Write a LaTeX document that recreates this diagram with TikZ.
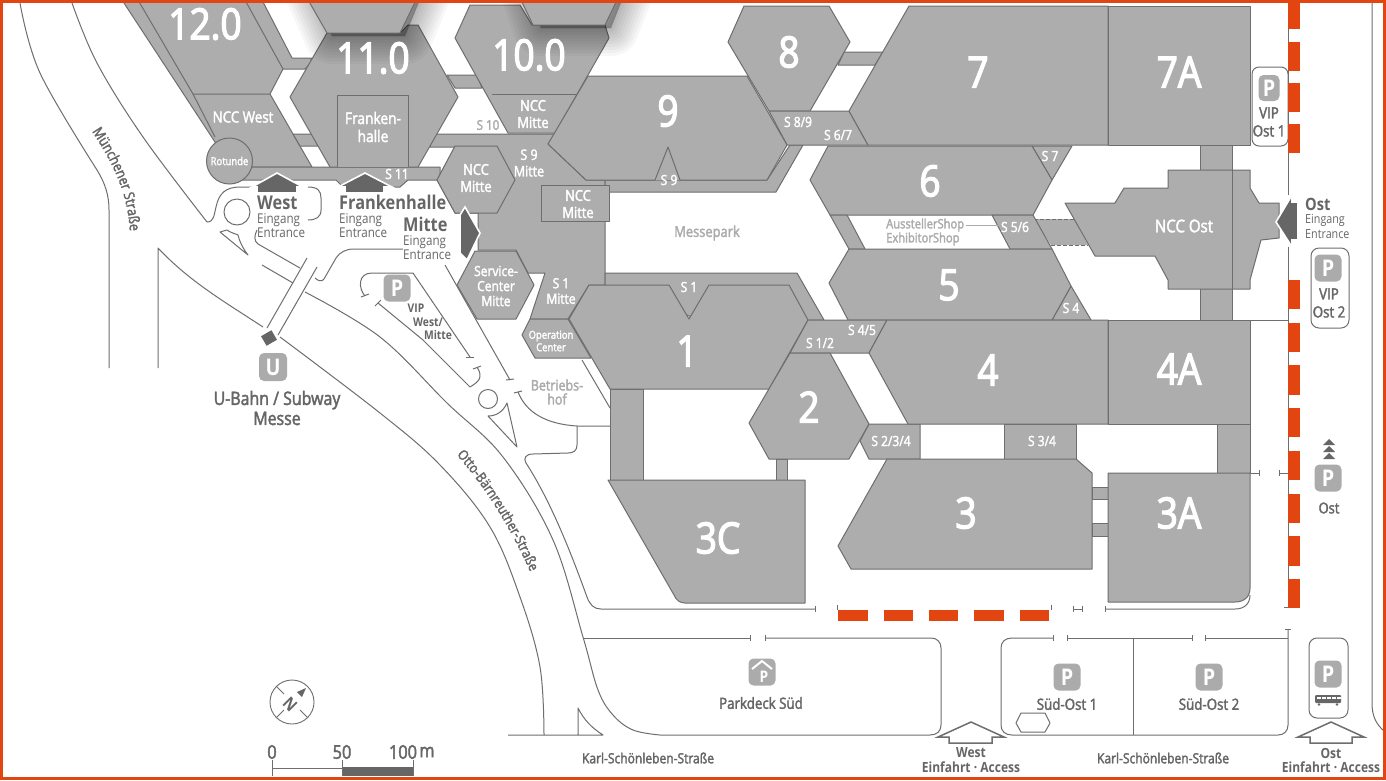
\documentclass[tikz,border=0pt]{standalone}
\usepackage{fontspec}
\setmainfont[FakeStretch=0.86]{Open Sans}
\newfontfamily\hf[FakeStretch=0.86,FakeBold=3]{Open Sans}
\newfontfamily\mf[FakeStretch=0.86,FakeBold=2.2]{Open Sans}
\usetikzlibrary{decorations.text}
\definecolor{hallgray}{HTML}{ADADAD}
\definecolor{edge}{HTML}{6E6E6E}
\definecolor{txt}{HTML}{666666}
\definecolor{lt}{HTML}{ABABAB}
\definecolor{rd}{HTML}{E2450F}
\definecolor{dk}{HTML}{666666}
\tikzset{
 hall/.style={fill=hallgray,draw=edge,line width=1,line join=round},
 road/.style={draw=edge,line width=1,line join=round},
 reddash/.style={fill=rd,draw=none},
 wt/.style n args={2}{text=white,inner sep=0,align=center,font=\mf\fontsize{#1}{#2}\selectfont},
 gt/.style n args={2}{text=txt,inner sep=0,align=center,font=\fontsize{#1}{#2}\selectfont},
 gb/.style n args={2}{text=txt,inner sep=0,align=center,font=\bfseries\fontsize{#1}{#2}\selectfont},
 gm/.style n args={2}{text=txt,inner sep=0,align=center,font=\mf\fontsize{#1}{#2}\selectfont},
 lg/.style n args={2}{text=lt,inner sep=0,align=center,font=\mf\fontsize{#1}{#2}\selectfont},
 big/.style={text=white,inner sep=0,align=center,font=\hf\fontsize{43}{46}\selectfont},
 sl/.style={wt={14}{15.5}},
 picon/.style={fill=lt,rounded corners=5,minimum width=27,minimum height=27,inner sep=0,text=white,font=\bfseries\fontsize{23}{23}\selectfont},
 darrow/.style={fill=dk,draw=white,line width=1.6,line join=miter},
 oarrow/.style={fill=white,draw=edge,line width=1.5,line join=miter},
}
\begin{document}
\begin{tikzpicture}[x=1pt,y=-1pt]
\useasboundingbox (0,0) rectangle (1386,780);
\fill[white] (0,0) rectangle (1386,780);

% ---------- roads
\draw[road] plot[smooth,tension=.6] coordinates {(20,3)(40,73)(97,170)} .. controls (105,183) and (109,195) .. (109,210) -- (109,368);
\draw[road] plot[smooth,tension=.6] coordinates {(72,3)(97,63)(143,137)(207,222)} .. controls (214,222) and (214,215) .. (216,207) .. controls (219,193) and (226,187) .. (240,187) -- (252,187);
\draw[road] (308,187) .. controls (318,187) and (321,191) .. (321,198) -- (321,210) .. controls (321,217) and (316,220) .. (308,220);
\draw[road] (237,212) circle (13);
\draw[road] (220,232) -- (227,230) .. controls (233,234) and (237,234) .. (238,235) .. controls (240,243) and (244,250) .. (248,255) -- cycle;
\draw[road] (257,230) .. controls (254,236) and (254,241) .. (258,244) -- (300,268);
\draw[road] (262,265) -- (293,283);
\draw[road] (158,368) -- (158,248) .. controls (190,282) and (225,302) .. (263,327);
\draw[road] plot[smooth,tension=.6] coordinates {(280,337)(380,413)(440,465)(490,527)(520,597)(540,667)(544,735)};
\draw[road] plot[smooth,tension=.6] coordinates {(305,292)(380,337)(447,403)(503,457)(553,540)(583,637)(598,690)(613,715)(633,730)(660,735)} -- (930,735) .. controls (937,735) and (941,731) .. (941,725) -- (941,648) .. controls (941,642) and (937,638) .. (931,638) -- (765,638);
\draw[road] (750,638) -- (583,638);
\draw[road] (508,735) -- (603,735) .. controls (592,728) and (584,720) .. (578,708) -- (578,735);
% U-Bahn stair
\draw[road] (307,258) -- (267,328);
\draw[road] (317,267) -- (278,335);
\node[fill=dk,minimum width=12,minimum height=11,inner sep=0,rotate=30] (ubahnbox) at (269,338) {};
% curb to Mitte
\draw[road] (315,278) .. controls (318,281) and (322,282) .. (324,279) -- (336,258) .. controls (340,252) and (346,249) .. (354,249) -- (403,249);
% VIP road
\draw[road] (365,296) .. controls (358,288) and (358,273) .. (372,273) -- (413,273) -- (470,357);
\draw[road] (361,297) -- (369,294);
\draw[road] (466,357) -- (474,357);
\draw[road] (378,303) -- (423,340) -- (470,387) .. controls (478,382) and (484,378) .. (477,367);
\draw[road] (375,306) -- (381,300);
\draw[road] (473,369) -- (481,366);
\draw[road] (488,399) circle (9.5);
\draw[road] (488,416) .. controls (496,416) and (503,412) .. (507,403) -- (517,447) -- cycle;
% road from service center
\draw[road] (445,265) -- (510,380);
\draw[road] (506,380) -- (514,379);
\draw[road] (518,392) .. controls (526,412) and (545,424) .. (577,426) -- (610,426);
\draw[road] (514,393) -- (522,391);
\draw[road] (577,426) -- (577,445) .. controls (577,451) and (573,453) .. (568,453) -- (533,454) .. controls (526,454) and (523,458) .. (526,463) .. controls (550,500) and (570,550) .. (587,597) .. controls (590,605) and (594,609) .. (601,609) -- (815,609);
\draw[road] (815,606) -- (815,612);
\draw[road] (582,360) -- (610,408);
% outer service road
\draw[road] (1105,609) -- (1235,609) .. controls (1244,609) and (1250,604) .. (1250,595);
\draw[road] (1105,606) -- (1105,612);
\draw[road] (1073,606) -- (1073,612) (1073,609) -- (1082,609) (1082,606) -- (1082,612);
\draw[road] (837,605) -- (837,610) (1051,605) -- (1051,610);
% right side lines
\draw[road] (1288,0) -- (1288,195) (1288,247) -- (1288,607);
\draw[road] (1372,0) -- (1372,703) .. controls (1372,716) and (1376,724) .. (1384,731);
\draw[road] (1250,320) -- (1288,320);
\draw[road] (1250,473) -- (1259,473) (1259,470) -- (1259,476);
\draw[road] (1279,473) -- (1288,473) (1279,470) -- (1279,476);
\draw[road] (1284,607) -- (1288,607);
% parking south-east
\draw[road] (1053,638) -- (1012,638) .. controls (1005,638) and (1001,642) .. (1001,648) -- (1001,725) .. controls (1001,731) and (1005,735) .. (1012,735) -- (1278,735) .. controls (1284,735) and (1288,731) .. (1288,725) -- (1288,629);
\draw[road] (1285,629) -- (1291,629);
\draw[road] (1067,638) -- (1192,638) (1205,638) -- (1288,638);
\draw[road] (1133,638) -- (1133,735);
\foreach \t in {1053,1067,1192,1205,750,765} \draw[road] (\t,635) -- (\t,641);
\draw[road] (1016,723) -- (1021,713) -- (1045,713) -- (1050,723) -- (1045,732) -- (1021,732) -- cycle;
% VIP boxes
\draw[road,rounded corners=7] (1252,67) rectangle (1288,146);
\draw[road,rounded corners=8] (1311,248) rectangle (1349,328);
\draw[road,rounded corners=8] (1309,638) rectangle (1348,718);

% ---------- red dashes
\foreach \a/\b in {0/29,42/71,83/112,124/153,280/309,323/352,365/395,408/437,451/480,494/523,536/566,579/608}
  \fill[reddash] (1288,\a) rectangle (1300,\b);
\foreach \a/\b in {838/868,884/913,929/958,974/1004,1020/1049}
  \fill[reddash] (\a,610) rectangle (\b,621);

% ---------- halls
% 12 + NCC West band
\draw[hall] (122,0) -- (215,142) -- (215,167) -- (312,167) -- (270,94) -- (283,69) -- (305,69) -- (312,58) -- (292,58) -- (262,0) -- cycle;
\draw[hall] (138,0) -- (193,94) -- (270,94);
\draw[hall] (245,0) -- (283,69);
\draw[hall] (193,94) -- (215,137);
% connector 12 - 11
\path[fill=hallgray] (293,60) -- (312,60) -- (305,68) -- (287,68) -- cycle;
% connector NCC West - 11
\draw[hall] (293,134) -- (312,134) -- (318,146) -- (300,146) -- cycle;
% S 11 band
\draw[hall] (220,167) -- (440,167) -- (440,180) -- (408,180) -- (400,187) -- (343,187) -- (336,180) -- (240,180) -- cycle;
% Central Mitte area
\draw[hall] (432,134) -- (555,134) -- (548,144) -- (586,180) -- (605,180) -- (605,285) -- (589,285) -- (568,319) -- (530,319) -- (545,273) -- (528,273) -- (516,250) -- (478,250) -- (478,213) -- (455,213) -- (437,180) -- (455,147) -- (430,147) -- cycle;
% S 9 band, with the notch of hall 9
\fill[hallgray] (650,185) -- (668,145) -- (686,185) -- cycle;
\draw[hall] (605,180) -- (767,180) -- (790,145) -- (803,145) -- (776,192) -- (605,192) -- cycle;
% connector 11-10
\draw[hall] (447,75) -- (477,75) -- (482,88) -- (455,88) -- cycle;
% 11.0
\draw[hall] (290,97) -- (327,33) -- (400,33) -- (408,25) -- (418,25) -- (458,97) -- (418,167) -- (330,167) -- cycle;
\draw[hall] (337,167) -- (337,95) -- (408,95) -- (408,167);
% 10.0
\draw[hall] (455,38) -- (470,5) -- (520,5) -- (532,25) -- (605,25) -- (609,38) -- (555,133) -- (508,133) -- cycle;
\draw[hall] (492,94) -- (577,94);
% connector 8-7
\draw[hall] (844,52) -- (883,52) -- (875,65) -- (838,65) -- cycle;
% 8
\draw[hall] (728,42) -- (744,6) -- (829,6) -- (850,42) -- (810,111) -- (769,111) -- cycle;
% S 8/9
\draw[hall] (769,111) -- (849,111) -- (868,145) -- (787,145) -- cycle;
% 9
\fill[hallgray] (655,180) -- (668,147) -- (680,180) -- cycle;
\draw[hall] (548,144) -- (588,76) -- (747,76) -- (787,145) -- (767,180) -- (680,180) -- (668,147) -- (655,180) -- (586,180) -- cycle;
% 7, 7A
\draw[hall] (909,6) -- (1108,6) -- (1108,145) -- (868,145) -- (849,111) -- cycle;
\draw[hall] (1108,6) rectangle (1250,145);
% 7/4 link
\draw[hall] (1200,145) rectangle (1232,320);
% S5/6 link
\fill[hallgray] (1034,219) -- (1074,219) -- (1088,245) -- (1051,245) -- cycle;
\draw[edge,line width=1,dash pattern=on 4pt off 2pt] (1034,219) -- (1074,219);
\draw[edge,line width=1,dash pattern=on 4pt off 2pt] (1051,245) -- (1088,245);
% NCC Ost
\draw[hall] (1065,203) -- (1115,203) -- (1124,188) -- (1168,188) -- (1168,170) -- (1250,170) -- (1250,188) -- (1259,203) -- (1279,203) -- (1279,238) -- (1261,240) -- (1250,280) -- (1250,289) -- (1168,289) -- (1168,280) -- (1155,256) -- (1095,256) -- cycle;
\draw[edge,line width=1] (1232,170) -- (1232,289);
% 6
\draw[hall] (1032,146) -- (1072,146) -- (1052,180) -- cycle;
\draw[hall] (810,180) -- (828,146) -- (1032,146) -- (1052,180) -- (1033,215) -- (830,215) -- cycle;
\draw[hall] (830,215) -- (847,215) -- (865,249) -- (849,249) -- cycle;
\draw[hall] (992,215) -- (1033,215) -- (1052,249) -- (1010,249) -- cycle;
% 5
\draw[hall] (1071,286) -- (1091,320) -- (1052,320) -- cycle;
\draw[hall] (829,283) -- (849,249) -- (1052,249) -- (1071,286) -- (1052,320) -- (848,320) -- cycle;
% 1 and surrounding band
\draw[hall] (605,273) -- (797,273) -- (824,320) -- (700,320) -- (605,285) -- cycle;
\draw[hall] (522,335) -- (530,319) -- (568,319) -- (591,358) -- (535,358) -- cycle;
\draw[hall] (610,389) rectangle (643,480);
\draw[hall] (589,285) -- (669,285) -- (689,319) -- (709,285) -- (789,285) -- (808,320) -- (769,389) -- (610,389) -- (569,319) -- cycle;
% S 1/2, 4/5
\draw[hall] (808,320) -- (887,320) -- (869,353) -- (790,353) -- cycle;
% 2
\draw[hall] (776,459) rectangle (787,480);
\draw[hall] (790,353) -- (830,353) -- (869,424) -- (849,459) -- (769,459) -- (749,423) -- cycle;
% S 2/3/4, S 3/4
\draw[hall] (869,424) -- (920,424) -- (920,459) -- (869,459) -- (860,441) -- cycle;
\draw[hall] (1004,424) rectangle (1076,459);
% 4, 4A
\draw[hall] (869,353) -- (887,320) -- (1108,320) -- (1108,424) -- (908,424) -- cycle;
\draw[hall] (1108,320) rectangle (1250,424);
\draw[hall] (1217,424) rectangle (1250,473);
% 3
\draw[hall] (1092,487) rectangle (1108,499);
\draw[hall] (1092,523) rectangle (1108,536);
\draw[hall] (887,459) -- (1076,459) -- (1092,473) -- (1092,569) -- (851,569) -- (838,546) -- cycle;
% 3A
\draw[hall] (1108,473) -- (1250,473) -- (1250,588) .. controls (1250,597) and (1244,602) .. (1235,602) -- (1108,602) -- cycle;
% 3C
\draw[hall] (608,480) -- (805,480) -- (805,603) -- (685,603) .. controls (680,603) and (676,600) .. (674,595) -- cycle;
% Service center
\draw[hall] (457,285) -- (475,251) -- (516,251) -- (534,285) -- (516,319) -- (477,319) -- cycle;
% NCC Mitte hex
\draw[hall] (437,180) -- (455,146) -- (497,146) -- (515,180) -- (497,213) -- (455,213) -- cycle;
% NCC Mitte rect
\draw[hall] (541,185) rectangle (609,221);
% Rotunde
\draw[hall] (229.5,161) circle (23);

% ---------- shadow of the cropped halls
\begin{scope}
\clip (280,0) rectangle (680,70);
\foreach \w in {56,50,44,38,32,26,20,14,8,3}{
 \path[draw=black,fill=black,opacity=.033,line width=\w,line join=round] (312,-10) -- (332,36) -- (405,36) -- (424,-10) -- cycle;
 \path[draw=black,fill=black,opacity=.033,line width=\w,line join=round] (528,-10) -- (541,28) -- (611,28) -- (626,-10) -- cycle;
}
\end{scope}
\draw[hall] (307,-2) -- (327,33) -- (400,33) -- (417,-2) -- cycle;
\draw[hall] (520,-2) -- (533,25) -- (605,25) -- (618,-2) -- cycle;

% ---------- entrance arrows
\draw[darrow] (252,187) -- (277,173) -- (303,187) -- (297,187) -- (297,193) -- (257,193) -- (257,187) -- cycle;
\draw[darrow] (338,187) -- (365,173) -- (392,187) -- (384,187) -- (384,193) -- (345,193) -- (345,187) -- cycle;
\draw[darrow] (460,215) -- (465,207) -- (480,233) -- (467,260) -- (460,253) -- cycle;
\draw[darrow] (1276,222) -- (1292,195) -- (1292,202) -- (1298,202) -- (1298,240) -- (1292,240) -- (1292,247) -- cycle;
\draw[oarrow] (971,722) -- (938,737) -- (949,737) -- (949,743) -- (992,743) -- (992,737) -- (1004,737) -- cycle;
\draw[oarrow] (1331,722) -- (1298,737) -- (1310,737) -- (1310,743) -- (1352,743) -- (1352,737) -- (1364,737) -- cycle;

% ---------- hall labels
\node[big] (h12) at (205,24) {12.0};
\node[big] (h11) at (373,58) {11.0};
\node[big] (h10) at (529,55) {10.0};
\node[big] (h8) at (789,52) {8};
\node[big] (h7) at (978,72) {7};
\node[big] (h7a) at (1179,72) {7A};
\node[big] (h9) at (668,111) {9};
\node[big] (h6) at (930,181) {6};
\node[big] (h5) at (949,285) {5};
\node[big] (h1) at (687,351) {1};
\node[big] (h4) at (988,370) {4};
\node[big] (h4a) at (1179,369) {4A};
\node[big] (h2) at (809,407) {2};
\node[big] (h3) at (966,513) {3};
\node[big] (h3a) at (1179,513) {3A};
\node[big] (h3c) at (718,538) {3C};
\node[wt={15.5}{17}] (nccw) at (243,117) {NCC West};
\node[wt={16}{18}] (fh) at (373,127) {Franken-\\halle};
\node[sl] (s11) at (397,174) {S 11};
\node[wt={15}{17}] (nccm1) at (533,114) {NCC\\Mitte};
\node[lg={13.5}{15}] (s10) at (488,125) {S 10};
\node[wt={14.5}{16.5}] (s9m) at (529,163) {S 9\\Mitte};
\node[wt={15}{17}] (nccm2) at (476,178) {NCC\\Mitte};
\node[wt={15}{17}] (nccm3) at (578,204) {NCC\\Mitte};
\node[wt={14}{15}] (sc) at (496,286) {Service-\\Center\\Mitte};
\node[wt={14}{15.5}] (s1m) at (561,291) {S 1\\Mitte};
\node[wt={11}{12.5}] (op) at (551,341) {Operation\\Center};
\node[wt={11}{12}] (rot) at (229.5,161) {Rotunde};
\node[wt={17.5}{18}] (nccost) at (1184,226) {NCC Ost};
\node[sl] (s89) at (798,122) {S 8/9};
\node[sl] (s67) at (838,135) {S 6/7};
\node[sl] (s7) at (1050,156) {S 7};
\node[sl] (s56) at (1015,227) {S 5/6};
\node[sl] (s4) at (1071,308) {S 4};
\node[sl] (s45) at (862,330) {S 4/5};
\node[sl] (s12) at (820,343) {S 1/2};
\node[sl] (s234) at (891,441) {S 2/3/4};
\node[sl] (s34) at (1042,441) {S 3/4};
\node[sl] (s1) at (689,287) {S 1};
\node[sl] (s9) at (669,180) {S 9};
% ---------- grey labels
\node[lg={13}{14},align=left,anchor=west] (shop) at (886,232) {AusstellerShop\\ExhibitorShop};
\draw[lt,line width=.9] (shop.north east |- 0,225) ++(2,0) -- (999,225);
\node[lg={15}{16}] (mp) at (707,233) {Messepark};
\node[lg={14.5}{14}] (bh) at (557,392) {Betriebs-\\hof};
\node[gb={19}{20},anchor=west] (west) at (257,203) {West};
\node[gt={13.5}{14.5},align=left,anchor=north west] (weste) at (257,213) {Eingang\\Entrance};
\node[gb={19}{20},anchor=west] (fhe) at (339,202) {Frankenhalle};
\node[gt={13.5}{14.5},align=left,anchor=north west] (fhee) at (339,213) {Eingang\\Entrance};
\node[gb={19}{20},anchor=west] (mit) at (403,224) {Mitte};
\node[gt={13.5}{14.5},align=left,anchor=north west] (mite) at (403,235) {Eingang\\Entrance};
\node[gb={17}{18},anchor=west] (ost) at (1305,204) {Ost};
\node[gt={12.5}{15.5},align=left,anchor=north west] (oste) at (1305,214) {Eingang\\Entrance};
\node[gm={18.5}{20}] (ub) at (277,408) {U-Bahn / Subway\\Messe};
\node[gb={12}{13.5}] (vw1) at (416,308) {VIP};
\node[gb={12}{13.5}] (vw2) at (428,322) {West/};
\node[gb={12}{13.5}] (vw3) at (438,335) {Mitte};
\node[gm={15.5}{18}] (vo1) at (1269,122) {VIP\\Ost 1};
\node[gm={15.5}{18}] (vo2) at (1329,303) {VIP\\Ost 2};
\node[gm={15}{16}] (ostp) at (1329,508) {Ost};
\node[gm={15.5}{16}] (pds) at (761,703) {Parkdeck Süd};
\node[gm={15.5}{16}] (so1) at (1067,704) {Süd-Ost 1};
\node[gm={15.5}{16}] (so2) at (1209,704) {Süd-Ost 2};
\node[gm={14}{15}] (k1) at (648,758) {Karl-Schönleben-Straße};
\node[gm={14}{15}] (k2) at (1163,758) {Karl-Schönleben-Straße};
\node[gb={14}{14}] (w1) at (971,753) {West};
\node[gb={14}{14}] (w2) at (971,767) {Einfahrt · Access};
\node[gb={14}{14}] (o1) at (1331,753) {Ost};
\node[gb={14}{14}] (o2) at (1331,767) {Einfahrt · Access};
% street names
\path[decorate,decoration={text along path,text align=center,text color=txt,text={|\mf\fontsize{14.5}{15}\selectfont|Münchener Straße}}] (84,120) .. controls (105,150) and (132,190) .. (130,245);
\path[decorate,decoration={text along path,text align=center,text color=txt,text={|\mf\fontsize{14}{15}\selectfont|Otto-Bärnreuther-Straße}}] (452,450) .. controls (485,485) and (512,530) .. (533,578);
% ---------- icons
\node[picon] (pvw) at (397,288) {P};
\node[picon,minimum width=28,minimum height=28] (pu) at (273,367) {U};
\node[picon] (ppd) at (762,672) {};
\node[text=white,inner sep=0,font=\bfseries\fontsize{16}{16}\selectfont] (ppdp) at (764,677) {P};
\draw[white,line width=2] (752,669) -- (762,661) -- (772,669);
\node[picon] (pso1) at (1067,677) {P};
\node[picon] (pso2) at (1209,677) {P};
\node[picon] (pbus) at (1328,674) {P};
\node[picon] (post) at (1328,478) {P};
\node[picon,minimum width=21,minimum height=26] (pv1) at (1269,88) {P};
\node[picon] (pv2) at (1328,268) {P};
% bus
\fill[dk,rounded corners=1] (1315,695) rectangle (1341,703);
\foreach \i in {0,1,2,3,4} \fill[white] (1317+\i*5,697) rectangle ++(3.5,2.2);
\fill[dk] (1319,704.5) circle (1.4) (1337,704.5) circle (1.4);
% triangles
\foreach \y in {439,446,453} \fill[dk] (1329,\y) -- (1335,\y+6) -- (1323,\y+6) -- cycle;
% compass
\draw[edge,line width=.9] (292,702) circle (22);
\draw[edge,line width=.8] (276,686) -- (284,694) (300,710) -- (308,718) (276,718) -- (284,710);
\draw[edge,line width=1.2] (300,694) -- (303,691);
\fill[dk] (306,688) -- (297,692) -- (302,697) -- cycle;
\node[gb={17}{17},rotate=-45] (north) at (290,704) {N};
% scale
\fill[white] (272,768) rectangle (342,776);
\draw[edge,line width=1] (272,768) -- (342,768);
\fill[dk] (342,767) rectangle (413,776);
\draw[edge,line width=1] (272,760) -- (272,776) (342,760) -- (342,776) (413,760) -- (413,776);
\node[gm={19}{18}] (sc0) at (272,752) {0};
\node[gm={19}{18}] (sc50) at (342,752) {50};
\node[gm={19}{18}] (sc100) at (403,752) {100};
\node[gm={19}{18}] (scm) at (427,752) {m};
% frame
\draw[rd,line width=3] (1.5,1.5) rectangle (1384.5,778.5);
\end{tikzpicture}
\end{document}
